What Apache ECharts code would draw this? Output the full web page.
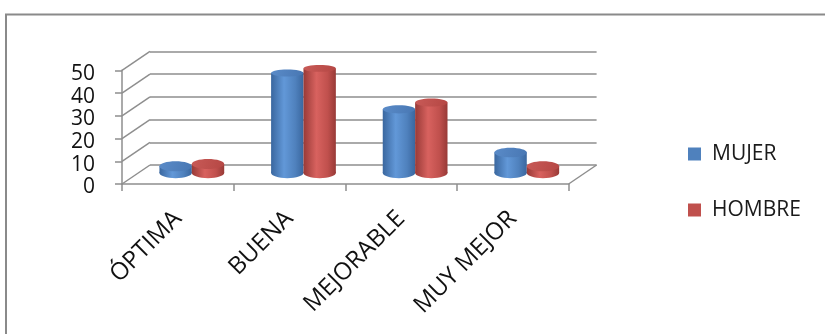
<!DOCTYPE html>
<html>
<head>
<meta charset="utf-8">
<script src="https://cdn.jsdelivr.net/npm/echarts@6/dist/echarts.min.js"></script>
<style>
  html, body { margin: 0; padding: 0; background: #fff; }
  #chart { width: 825px; height: 334px; }
</style>
</head>
<body>
<div id="chart"></div>
<script>
// Categories and series values
const categories = ['ÓPTIMA', 'BUENA', 'MEJORABLE', 'MUY MEJOR'];
const mujer = [3, 44, 28, 9];
const hombre = [4, 46, 31, 3];
const seriesNames = ['MUJER', 'HOMBRE'];
const yTicks = [0, 10, 20, 30, 40, 50];

// Depth offset of the back wall relative to the front plane (pixels)
const DX = 28, DY = -19;
const GRID_W = 446.6, GRID_H = 113.7;
const FRONT = { left: 122, top: 70.3 };
const GRID_COLOR = '#8e8e8e';
const FONT = 'Open Sans';

const palette = {
  blue: { edge: '#3a679f', light: '#6298d8', mid: '#4f81bd', top: '#4877b3', topLight: '#5a8bc8' },
  red:  { edge: '#983a37', light: '#d8625f', mid: '#c0504d', top: '#b54744', topLight: '#c85a57' }
};

function bodyGradient(c) {
  return new echarts.graphic.LinearGradient(0, 0, 1, 0, [
    { offset: 0, color: c.edge },
    { offset: 0.4, color: c.light },
    { offset: 0.75, color: c.mid },
    { offset: 1, color: c.edge }
  ]);
}

function cylinderRenderer(side, c) {
  return function (params, api) {
    const cat = api.value(0);
    const val = api.value(1);
    const base = api.coord([cat, 0]);
    const top = api.coord([cat, val]);
    const band = api.size([1, 0])[0];
    const w = band * 0.29;
    const cx = base[0] + side * w / 2;
    const rx = w / 2;
    const ryTop = 3.4 + (top[1] - 65) * 0.016;
    const ryBase = 3.4 + (base[1] - 65) * 0.016;
    const grad = bodyGradient(c);
    return {
      type: 'group',
      children: [
        { type: 'ellipse', shape: { cx: cx, cy: base[1], rx: rx, ry: ryBase }, style: { fill: grad } },
        { type: 'rect', shape: { x: cx - rx, y: top[1], width: w, height: base[1] - top[1] }, style: { fill: grad } },
        { type: 'ellipse', shape: { cx: cx, cy: top[1], rx: rx, ry: ryTop },
          style: { fill: new echarts.graphic.LinearGradient(0, 0, 1, 1, [
            { offset: 0, color: c.topLight }, { offset: 1, color: c.top }
          ]) } }
      ]
    };
  };
}

// Side-wall diagonals and the right edge of the floor
function wallRenderer(params, api) {
  const v = api.value(1);
  const p = api.coord([0, v]);
  const band = api.size([1, 0])[0];
  const left = p[0] - band / 2;
  const children = [
    { type: 'line', shape: { x1: left, y1: p[1], x2: left + DX, y2: p[1] + DY },
      style: { stroke: GRID_COLOR, lineWidth: 1.5 } }
  ];
  if (v === 0) {
    const r = api.coord([categories.length - 1, 0]);
    const right = r[0] + band / 2;
    children.push({ type: 'line', shape: { x1: right, y1: r[1], x2: right + DX, y2: r[1] + DY },
      style: { stroke: GRID_COLOR, lineWidth: 1.5 } });
  }
  return { type: 'group', children: children };
}

const chart = echarts.init(document.getElementById('chart'), null, { renderer: 'canvas' });

chart.setOption({
  animation: false,
  backgroundColor: '#ffffff',
  graphic: [{
    type: 'rect', silent: true, z: -10,
    shape: { x: 6, y: 14.5, width: 1000, height: 1000 },
    style: { fill: 'none', stroke: '#8a8a8a', lineWidth: 2 }
  }],
  legend: {
    orient: 'vertical',
    left: 688,
    top: 143.5,
    padding: 0,
    itemWidth: 13,
    itemHeight: 13,
    itemGap: 35,
    icon: 'rect',
    data: seriesNames,
    textStyle: { fontFamily: FONT, fontSize: 21, color: '#1a1a1a', lineHeight: 21, padding: [0, 0, 0, 6] }
  },
  grid: [
    { left: FRONT.left, top: FRONT.top, width: GRID_W, height: GRID_H },
    { left: FRONT.left + DX, top: FRONT.top + DY, width: GRID_W, height: GRID_H },
    { left: FRONT.left + DX / 2, top: FRONT.top + DY / 2 - 1.5, width: GRID_W, height: GRID_H }
  ],
  xAxis: [
    {
      type: 'category', gridIndex: 0, data: categories, boundaryGap: true,
      axisLine: { lineStyle: { color: GRID_COLOR, width: 1.5 } },
      axisTick: { show: true, length: 7, lineStyle: { color: GRID_COLOR, width: 1.5 } },
      axisLabel: { rotate: 45, margin: 31, fontFamily: FONT, fontSize: 24, color: '#111', interval: 0 },
      splitLine: { show: false }
    },
    { type: 'category', gridIndex: 1, data: categories, show: false },
    { type: 'category', gridIndex: 2, data: categories, show: false }
  ],
  yAxis: [
    {
      type: 'value', gridIndex: 0, min: 0, max: 50, interval: 10,
      axisLine: { show: true, lineStyle: { color: GRID_COLOR, width: 1.5 } },
      axisTick: { show: true, length: 7, lineStyle: { color: GRID_COLOR, width: 1.5 } },
      axisLabel: {
        margin: 27, fontFamily: FONT, fontSize: 21, color: '#111',
        verticalAlign: 'top', lineHeight: 7, showMinLabel: true, showMaxLabel: true
      },
      splitLine: { show: false }
    },
    {
      type: 'value', gridIndex: 1, min: 0, max: 50, interval: 10,
      axisLine: { show: false }, axisTick: { show: false }, axisLabel: { show: false },
      splitLine: { show: true, lineStyle: { color: GRID_COLOR, width: 1.5 } }
    },
    { type: 'value', gridIndex: 2, min: 0, max: 50, interval: 10, show: false, splitLine: { show: false } }
  ],
  series: [
    {
      type: 'custom', name: 'wall', xAxisIndex: 0, yAxisIndex: 0, silent: true, z: 1,
      renderItem: wallRenderer,
      data: yTicks.map(v => [0, v])
    },
    {
      type: 'custom', name: seriesNames[0], xAxisIndex: 2, yAxisIndex: 2, z: 3,
      itemStyle: { color: palette.blue.mid },
      renderItem: cylinderRenderer(-1, palette.blue),
      data: mujer.map((v, i) => [i, v])
    },
    {
      type: 'custom', name: seriesNames[1], xAxisIndex: 2, yAxisIndex: 2, z: 4,
      itemStyle: { color: palette.red.mid },
      renderItem: cylinderRenderer(1, palette.red),
      data: hombre.map((v, i) => [i, v])
    }
  ]
});
</script>
</body>
</html>
